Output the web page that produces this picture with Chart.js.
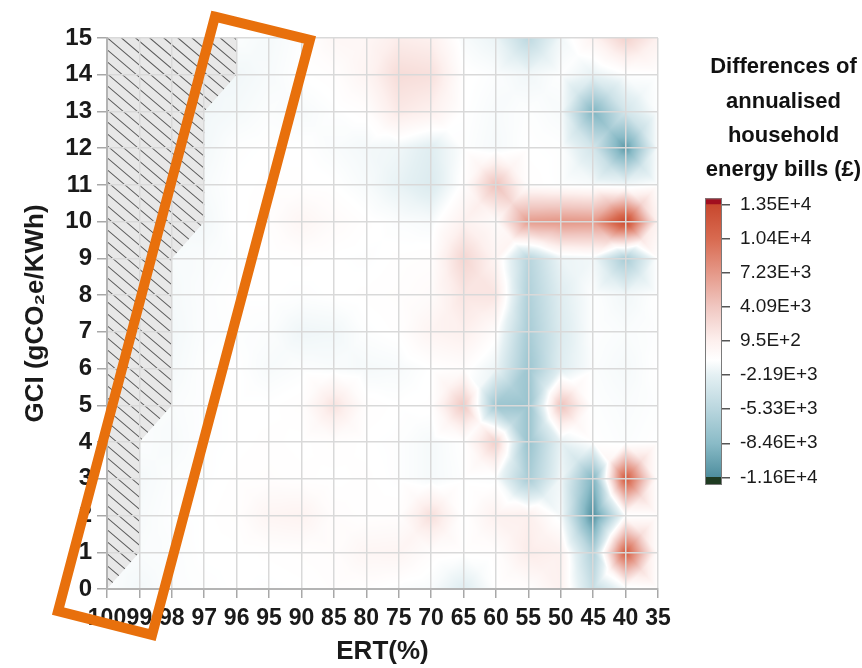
<!DOCTYPE html>
<html>
<head>
<meta charset="utf-8">
<script src="https://cdn.jsdelivr.net/npm/chart.js@4.4.1/dist/chart.umd.min.js"></script>
<style>
  html, body { margin: 0; padding: 0; background: #ffffff; }
  #wrap { position: relative; width: 862px; height: 668px; }
  #heat { position: absolute; left: 0; top: 0; }
  #legend { position: absolute; left: 670px; top: 0; }
</style>
</head>
<body>
<div id="wrap">
  <canvas id="heat" width="862" height="668"></canvas>
  <canvas id="legend" width="192" height="668"></canvas>
</div>
<script>
// Energy reduction target categories (x) and grid carbon intensity levels (y)
const ertLabels = ['100', '99', '98', '97', '96', '95', '90', '85', '80', '75', '70', '65', '60', '55', '50', '45', '40', '35'];
const gciValues = [0, 1, 2, 3, 4, 5, 6, 7, 8, 9, 10, 11, 12, 13, 14, 15];

// Differences of annualised household energy bills (£), one array per GCI level,
// ordered like ertLabels; null = no feasible solution
const gci15 = [null, null, null, null, -1000, -1300, -900, 100, 200, 1200, 900, -1200, -1800, -5000, -1500, 600, 3300, 900];
const gci14 = [null, null, null, null, -1500, -1200, -800, -600, 400, 2500, 2200, -700, -1000, -1500, -900, -2000, -900, -800];
const gci13 = [null, null, null, -1500, -1300, -1000, -1200, -900, -600, 1500, 900, -800, -1200, -900, -1200, -9000, -3500, -900];
const gci12 = [null, null, null, -1400, -900, -800, -800, -1100, -1400, -1600, -2500, -900, -1300, -800, -900, -3500, -10800, -1000];
const gci11 = [null, null, null, -1200, -800, -700, -700, -800, -1200, -2000, -2800, -600, 4500, -600, -900, -1200, -1500, -800];
const gci10 = [null, null, null, -1400, -800, -600, 300, -300, -700, -1000, -1200, 800, -300, 7000, 7400, 7200, 13500, 600];
const gci9  = [null, null, -1200, -1100, -900, -800, -700, -800, -900, -700, -600, 3000, 500, -5500, -1800, -1500, -6500, -800];
const gci8  = [null, null, -1300, -1000, -800, -800, -900, -800, -700, -600, -300, 1800, 1800, -6000, -2500, -900, -1500, -800];
const gci7  = [null, null, -1400, -1000, -900, -1000, -1600, -1500, -900, -700, 500, 1000, -500, -6500, -2800, -900, -1100, -900];
const gci6  = [null, null, -1300, -900, -800, -1200, -1000, -1100, -1300, -1200, -800, -500, -1800, -7200, -2500, -1000, -1300, -800];
const gci5  = [null, null, -1100, -900, -800, -800, -600, 2000, -600, -800, -700, 4000, -7200, -7500, 4500, -900, -1100, -900];
const gci4  = [null, -1000, -1200, -900, -800, -700, -800, -600, -800, -900, -1300, -800, 3500, -7500, -2000, -800, -1000, -800];
const gci3  = [null, -1300, -1000, -900, -700, -600, -700, -800, -700, -900, -1300, -900, -1000, -6500, -1500, -9000, 11800, -800];
const gci2  = [null, -1200, -900, -800, -600, 400, 600, -500, -700, -600, 2300, -800, 800, 1000, -1200, -11600, -800, -700];
const gci1  = [null, -1100, -1000, -800, -800, -700, -600, -500, 300, 400, -500, -700, -600, 1300, 900, -6000, 11500, -700];
const gci0  = [-1000, -1400, -1000, -900, -800, -900, -800, -600, -700, -1000, -1200, -2500, -800, -600, 800, -4500, -1200, -800];
const billDiffRows = [gci0, gci1, gci2, gci3, gci4, gci5, gci6, gci7, gci8, gci9, gci10, gci11, gci12, gci13, gci14, gci15];

// Outline of the infeasible region (ERT index, GCI)
const noDataOutline = [[0, 0], [0, 15], [4, 15], [4, 14], [3, 13], [3, 10], [2, 9], [2, 5], [1, 4], [1, 1]];

// Highlight frame corners (ERT index, GCI)
const highlightCorners = [[3.33, 15.58], [6.26, 14.95], [1.39, -1.25], [-1.51, -0.60]];

// Colour bar ticks
const legendTickValues = [13500, 10370, 7230, 4090, 950, -2190, -5330, -8460, -11600];
const legendTickLabels = ['1.35E+4', '1.04E+4', '7.23E+3', '4.09E+3', '9.5E+2', '-2.19E+3', '-5.33E+3', '-8.46E+3', '-1.16E+4'];
const legendRange = [-12300, 14080];

// Diverging colour map (value -> rgb)
const colourStops = [
  [-11600, [78, 142, 158]],
  [-8460, [138, 187, 199]],
  [-5330, [185, 214, 222]],
  [-2190, [228, 240, 243]],
  [-800, [255, 255, 255]],
  [950, [253, 240, 238]],
  [4090, [240, 199, 193]],
  [7230, [229, 152, 136]],
  [10370, [216, 106, 80]],
  [13500, [200, 72, 46]]
];

function colourFor(val) {
  if (val <= colourStops[0][0]) return colourStops[0][1];
  const last = colourStops[colourStops.length - 1];
  if (val >= last[0]) return last[1];
  for (let k = 0; k < colourStops.length - 1; k++) {
    const [v0, c0] = colourStops[k];
    const [v1, c1] = colourStops[k + 1];
    if (val <= v1) {
      const t = (val - v0) / (v1 - v0);
      return [0, 1, 2].map(n => c0[n] + (c1[n] - c0[n]) * t);
    }
  }
  return last[1];
}

// Piecewise-linear field: every grid cell split into four triangles about its centre
function fieldValue(gx, gy) {
  const nx = ertLabels.length, ny = gciValues.length;
  const i = Math.min(Math.max(Math.floor(gx), 0), nx - 2);
  const j = Math.min(Math.max(Math.floor(gy), 0), ny - 2);
  const u = gx - i, v = gy - j;
  let a = billDiffRows[j][i], b = billDiffRows[j][i + 1];
  let c = billDiffRows[j + 1][i], d = billDiffRows[j + 1][i + 1];
  const known = [a, b, c, d].filter(q => q !== null);
  if (!known.length) return null;
  const mean = known.reduce((s, q) => s + q, 0) / known.length;
  if (a === null) a = mean;
  if (b === null) b = mean;
  if (c === null) c = mean;
  if (d === null) d = mean;
  const m = (a + b + c + d) / 4;
  const dx = u - 0.5, dy = v - 0.5;
  if (Math.abs(dy) <= Math.abs(dx)) {
    if (dx >= 0) return m + (b + d - 2 * m) * dx + (d - b) * dy;
    return m + (2 * m - a - c) * dx + (c - a) * dy;
  }
  if (dy >= 0) return m + (d - c) * dx + (c + d - 2 * m) * dy;
  return m + (b - a) * dx + (2 * m - a - b) * dy;
}

const fontFamily = '"Liberation Sans", Arial, Helvetica, sans-serif';
Chart.defaults.font.family = fontFamily;
Chart.defaults.color = '#1a1a1a';

const heatFieldPlugin = {
  id: 'heatField',
  beforeDraw(chart) {
    const { ctx, chartArea: area, scales: { x, y } } = chart;
    const w = Math.round(area.right - area.left);
    const h = Math.round(area.bottom - area.top);
    const off = document.createElement('canvas');
    off.width = w; off.height = h;
    const octx = off.getContext('2d');
    const img = octx.createImageData(w, h);
    const x0 = x.getPixelForValue(0);
    const xStep = x.getPixelForValue(1) - x0;
    const gStep = gciValues[1] - gciValues[0];
    for (let py = 0; py < h; py++) {
      const gy = (y.getValueForPixel(area.top + py + 0.5) - gciValues[0]) / gStep;
      for (let px = 0; px < w; px++) {
        const gx = (area.left + px + 0.5 - x0) / xStep;
        const val = fieldValue(gx, gy);
        const rgb = val === null ? [255, 255, 255] : colourFor(val);
        const o = (py * w + px) * 4;
        img.data[o] = rgb[0]; img.data[o + 1] = rgb[1]; img.data[o + 2] = rgb[2]; img.data[o + 3] = 255;
      }
    }
    octx.putImageData(img, 0, 0);
    ctx.save();
    ctx.drawImage(off, area.left, area.top);

    // hatched infeasible region
    ctx.beginPath();
    noDataOutline.forEach(([gx, gy], k) => {
      const px = x.getPixelForValue(gx), py = y.getPixelForValue(gy);
      if (k === 0) ctx.moveTo(px, py); else ctx.lineTo(px, py);
    });
    ctx.closePath();
    ctx.fillStyle = '#e8e8e8';
    ctx.fill();
    ctx.clip();
    ctx.strokeStyle = '#5a5a5a';
    ctx.lineWidth = 1.1;
    const slope = 0.85, gap = 12;
    ctx.beginPath();
    for (let cc = area.top - slope * area.right - gap; cc < area.bottom - slope * area.left + gap; cc += gap) {
      ctx.moveTo(area.left - 5, cc + slope * (area.left - 5));
      ctx.lineTo(area.right, cc + slope * area.right);
    }
    ctx.stroke();
    ctx.restore();
  },
  afterDraw(chart) {
    const { ctx, scales: { x, y } } = chart;
    ctx.save();
    ctx.beginPath();
    highlightCorners.forEach(([gx, gy], k) => {
      const px = x.getPixelForValue(gx), py = y.getPixelForValue(gy);
      if (k === 0) ctx.moveTo(px, py); else ctx.lineTo(px, py);
    });
    ctx.closePath();
    ctx.lineWidth = 10;
    ctx.lineJoin = 'miter';
    ctx.strokeStyle = '#e8700c';
    ctx.stroke();
    ctx.restore();
  }
};

const gridNodes = [];
gciValues.forEach(g => ertLabels.forEach(e => gridNodes.push({ x: e, y: g })));

new Chart(document.getElementById('heat'), {
  type: 'line',
  data: {
    labels: ertLabels,
    datasets: [{ data: gridNodes, showLine: false, pointRadius: 0, pointHoverRadius: 0 }]
  },
  options: {
    responsive: false,
    animation: false,
    events: [],
    layout: { padding: { top: 38, right: 204, left: 0, bottom: 0 } },
    plugins: { legend: { display: false }, tooltip: { enabled: false } },
    scales: {
      x: {
        type: 'category',
        offset: false,
        grid: { offset: false, color: '#d9d9d9', lineWidth: 1.5, tickLength: 9, tickColor: '#a8a8a8' },
        border: { color: '#b4b4b4', width: 2 },
        ticks: { autoSkip: false, maxRotation: 0, minRotation: 0, padding: 7, color: '#1a1a1a', font: { size: 23, weight: 'bold' } },
        title: { display: true, text: 'ERT(%)', color: '#1a1a1a', font: { size: 26, weight: 'bold' }, padding: { top: 0, bottom: 1 } },
        afterFit(scale) { scale.height = 79; }
      },
      y: {
        type: 'linear',
        min: 0, max: 15,
        grid: { color: '#d9d9d9', lineWidth: 1.5, tickLength: 10, tickColor: '#a8a8a8' },
        border: { color: '#b4b4b4', width: 2 },
        ticks: { stepSize: 1, padding: 5, color: '#1a1a1a', font: { size: 24, weight: 'bold' } },
        title: { display: true, text: 'GCI (gCO₂e/KWh)', color: '#1a1a1a', font: { size: 26, weight: 'bold' }, padding: { top: 20, bottom: 0 } },
        afterFit(scale) { scale.width = 107; }
      }
    }
  },
  plugins: [heatFieldPlugin]
});

// Colour bar: dark caps beyond the range plus the graded main band
function legendGradient(context) {
  const chart = context.chart;
  if (!chart.chartArea) return '#ffffff';
  const ys = chart.scales.y;
  const lo = colourStops[0][0], hi = colourStops[colourStops.length - 1][0];
  const g = chart.ctx.createLinearGradient(0, ys.getPixelForValue(lo), 0, ys.getPixelForValue(hi));
  colourStops.forEach(([v, c]) => g.addColorStop((v - lo) / (hi - lo), `rgb(${c.map(Math.round).join(',')})`));
  return g;
}

new Chart(document.getElementById('legend'), {
  type: 'bar',
  data: {
    labels: [''],
    datasets: [
      { data: [[legendRange[0], legendTickValues[legendTickValues.length - 1]]], backgroundColor: '#1f3b22' },
      { data: [[legendTickValues[legendTickValues.length - 1], legendTickValues[0]]], backgroundColor: legendGradient },
      { data: [[legendTickValues[0], legendRange[1]]], backgroundColor: '#a10f1f' }
    ]
  },
  options: {
    responsive: false,
    animation: false,
    events: [],
    layout: { padding: { top: 0, right: 0, left: 35, bottom: 183 } },
    datasets: { bar: { grouped: false, barPercentage: 1, categoryPercentage: 1, borderWidth: 0 } },
    plugins: {
      legend: { display: false },
      tooltip: { enabled: false },
      title: {
        display: true,
        text: ['Differences of', 'annualised', 'household', 'energy bills (£)'],
        color: '#111111',
        font: { size: 22, weight: 'bold', lineHeight: 1.56 },
        padding: { top: 50, bottom: 11 }
      }
    },
    scales: {
      x: { display: false },
      y: {
        position: 'right',
        min: legendRange[0], max: legendRange[1],
        afterBuildTicks(scale) { scale.ticks = legendTickValues.map(v => ({ value: v })); },
        afterFit(scale) { scale.width = 140; },
        grid: { drawOnChartArea: false, drawTicks: true, tickLength: 8, color: '#555555', lineWidth: 1.5 },
        border: { display: false },
        ticks: {
          padding: 10,
          color: '#1a1a1a',
          font: { size: 19 },
          callback: (value, index) => legendTickLabels[index]
        }
      }
    }
  },
  plugins: [{
    id: 'barFrame',
    afterDatasetsDraw(chart) {
      const { ctx, chartArea: a } = chart;
      ctx.save();
      ctx.strokeStyle = '#7a7a7a';
      ctx.lineWidth = 1;
      ctx.strokeRect(a.left + 0.5, a.top + 0.5, a.right - a.left - 1, a.bottom - a.top - 1);
      ctx.restore();
    }
  }]
});
</script>
</body>
</html>
